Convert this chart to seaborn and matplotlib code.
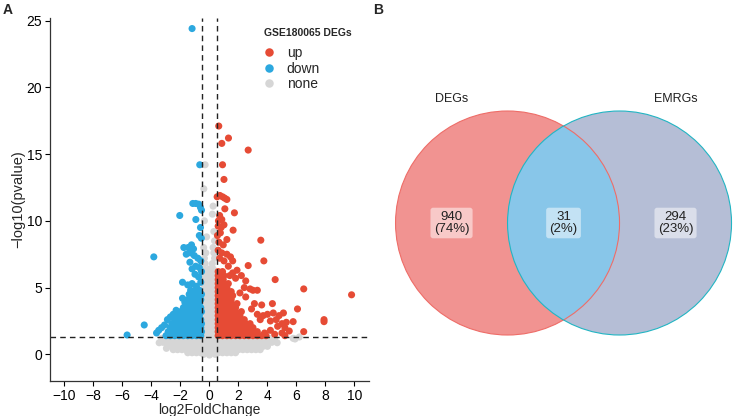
import matplotlib.pyplot as plt
import seaborn as sns
import numpy as np
import pandas as pd
from matplotlib.patches import Circle

# ---- volcano data ----
down_pts = [(-1.20, 24.4), (-0.67, 14.2), (-2.05, 10.4), (-0.94, 10.1),
            (-1.15, 11.3), (-0.95, 11.3), (-0.75, 11.25), (-0.62, 11.0), (-0.55, 10.8),
            (-0.62, 9.5), (-0.70, 8.9), (-0.56, 8.7),
            (-1.77, 8.0), (-1.47, 8.0), (-1.24, 8.2), (-1.10, 7.9),
            (-3.84, 7.3), (-1.60, 7.5), (-1.30, 7.6), (-1.05, 7.4), (-0.80, 7.2), (-0.60, 7.0),
            (-1.35, 6.9), (-0.95, 6.6), (-1.20, 6.4), (-0.70, 6.5), (-0.55, 6.2), (-1.00, 6.0),
            (-0.75, 5.8), (-1.86, 5.4), (-1.50, 5.2), (-1.20, 5.3), (-0.90, 5.1), (-0.60, 5.4),
            (-1.86, 4.2), (-1.70, 3.9), (-2.30, 3.3), (-2.50, 3.0), (-2.70, 2.8), (-2.90, 2.6),
            (-3.10, 2.2), (-3.30, 2.0), (-3.50, 1.8), (-3.65, 1.6), (-4.50, 2.2), (-5.68, 1.45)]
down_rows = [(1.4, [-3.0, -2.7, -2.4, -2.1, -1.8, -1.5, -1.2, -0.9, -0.6]),
             (1.7, [-2.85, -2.55, -2.25, -1.95, -1.65, -1.35, -1.05, -0.75, -0.55]),
             (2.0, [-2.7, -2.4, -2.1, -1.8, -1.5, -1.2, -0.9, -0.6]),
             (2.3, [-2.6, -2.3, -2.0, -1.7, -1.4, -1.1, -0.8, -0.55]),
             (2.6, [-2.4, -2.1, -1.8, -1.5, -1.2, -0.9, -0.6]),
             (2.9, [-2.2, -1.9, -1.6, -1.3, -1.0, -0.7]),
             (3.2, [-2.0, -1.75, -1.45, -1.15, -0.85, -0.55]),
             (3.5, [-1.8, -1.5, -1.2, -0.9, -0.6]),
             (3.8, [-1.6, -1.3, -1.0, -0.7]),
             (4.1, [-1.5, -1.2, -0.9, -0.6]),
             (4.5, [-1.4, -1.1, -0.8, -0.55]),
             (4.8, [-1.3, -1.0, -0.7])]

up_pts = [(0.64, 17.1), (1.31, 16.2), (0.85, 15.8), (2.67, 15.3), (0.90, 14.2), (1.00, 13.1),
          (0.53, 11.8), (0.72, 11.9), (0.90, 11.8), (1.05, 11.7), (1.20, 11.6),
          (1.06, 10.9), (1.72, 10.6), (0.70, 10.4), (0.62, 10.0), (0.85, 10.1),
          (0.60, 9.6), (0.80, 9.5), (1.00, 9.7), (1.63, 9.3), (0.75, 9.1), (0.55, 8.9),
          (1.20, 8.6), (0.65, 8.4), (0.95, 8.2), (3.54, 8.55),
          (0.60, 7.8), (0.85, 7.6), (1.20, 7.5), (1.45, 7.3), (1.60, 7.0), (3.75, 7.0),
          (2.67, 6.65), (1.00, 7.0), (0.70, 7.2),
          (1.30, 6.6), (1.90, 6.3), (1.60, 6.1), (2.20, 5.9), (1.80, 5.7), (2.50, 5.5),
          (4.53, 5.6), (2.40, 5.0), (2.80, 4.9), (3.00, 4.8), (3.30, 4.8), (6.50, 4.9),
          (9.80, 4.46), (2.10, 4.6), (2.50, 4.3), (3.10, 3.8), (3.60, 3.7), (4.34, 3.8),
          (2.90, 3.4), (3.30, 3.0), (3.70, 2.9), (4.00, 3.0), (4.40, 3.1), (4.80, 2.9),
          (5.10, 3.1), (6.07, 3.4), (3.50, 2.6), (4.20, 2.5), (4.60, 2.6), (5.00, 2.3),
          (5.30, 2.4), (5.77, 2.45), (5.20, 2.0), (4.70, 2.1), (7.90, 2.6), (7.90, 2.45),
          (6.50, 1.7), (5.50, 1.75), (5.00, 1.6), (4.50, 1.5), (5.20, 1.4), (4.20, 1.8),
          (3.80, 1.6)]
up_rows = [(1.4, [0.6, 0.9, 1.2, 1.5, 1.8, 2.1, 2.4, 2.7, 3.0, 3.3, 3.6, 3.9]),
           (1.7, [0.6, 0.9, 1.2, 1.5, 1.8, 2.1, 2.4, 2.7, 3.0, 3.3]),
           (2.0, [0.6, 0.9, 1.2, 1.5, 1.8, 2.1, 2.4, 2.7, 3.0]),
           (2.3, [0.6, 0.9, 1.2, 1.5, 1.8, 2.1, 2.5, 2.8]),
           (2.6, [0.6, 0.9, 1.2, 1.5, 1.8, 2.1, 2.4]),
           (2.9, [0.6, 0.9, 1.2, 1.5, 1.8, 2.1]),
           (3.2, [0.6, 0.9, 1.2, 1.5, 1.8, 2.2]),
           (3.5, [0.6, 0.9, 1.2, 1.5, 1.8]),
           (3.8, [0.6, 0.9, 1.2, 1.5, 1.9]),
           (4.1, [0.6, 0.9, 1.2, 1.5]),
           (4.4, [0.6, 0.9, 1.2, 1.6]),
           (4.7, [0.6, 0.9, 1.2, 1.5]),
           (5.0, [0.6, 0.9, 1.2]),
           (5.3, [0.6, 0.9, 1.3]),
           (5.6, [0.6, 0.95]),
           (5.9, [0.6, 1.0, 1.4]),
           (6.2, [0.6, 0.9])]

none_pts = [(-0.39, 12.4), (0.25, 11.1), (-0.30, 14.2), (0.20, 10.5), (-0.35, 10.0),
            (0.30, 9.2), (-0.20, 8.8), (0.35, 8.5), (-3.47, 0.87), (-2.97, 0.45),
            (4.67, 0.87), (5.77, 1.2), (6.20, 1.3), (5.90, 1.15), (0.0, -0.05),
            (-0.4, 0.0), (0.4, 0.0)]
none_rows = [(1.2, [-3.3, -3.0, -2.7, -2.4, -2.1, -1.8, -1.5, -1.2, -0.9, -0.6, -0.3, 0.0, 0.3,
                    0.6, 0.9, 1.2, 1.5, 1.8, 2.1, 2.4, 2.7, 3.0, 3.3, 3.6, 3.9, 4.2, 4.5]),
             (0.9, [-3.2, -2.9, -2.6, -2.3, -2.0, -1.7, -1.4, -1.1, -0.8, -0.5, -0.2, 0.1, 0.4,
                    0.7, 1.0, 1.3, 1.6, 1.9, 2.2, 2.5, 2.8, 3.1, 3.4, 3.7, 4.0, 4.3]),
             (0.6, [-2.9, -2.6, -2.3, -2.0, -1.7, -1.4, -1.1, -0.8, -0.5, -0.2, 0.1, 0.4,
                    0.7, 1.0, 1.3, 1.6, 1.9, 2.2, 2.5, 2.8, 3.1, 3.4, 3.7, 4.0]),
             (0.35, [-2.5, -2.2, -1.9, -1.6, -1.3, -1.0, -0.7, -0.4, -0.1, 0.2, 0.5, 0.8,
                     1.1, 1.4, 1.7, 2.0, 2.3, 2.6, 2.9, 3.2, 3.5]),
             (0.12, [-1.5, -1.2, -0.9, -0.6, -0.3, 0.0, 0.3, 0.6, 0.9, 1.2, 1.5, 1.8]),
             (1.6, [-0.35, 0.0, 0.35]), (1.9, [-0.2, 0.15, 0.4]), (2.2, [-0.4, 0.0, 0.3]),
             (2.5, [-0.3, 0.05, 0.4]), (2.8, [-0.4, -0.05, 0.3]), (3.1, [-0.3, 0.1, 0.4]),
             (3.4, [-0.35, 0.0, 0.35]), (3.7, [-0.25, 0.1, 0.4]), (4.0, [-0.4, 0.0, 0.3]),
             (4.3, [-0.3, 0.05, 0.4]), (4.6, [-0.35, 0.0, 0.35]), (4.9, [-0.3, 0.1, 0.4]),
             (5.2, [-0.4, 0.0, 0.3]), (5.5, [-0.3, 0.1, 0.35]), (5.8, [-0.35, 0.0, 0.3]),
             (6.1, [-0.25, 0.1, 0.3]), (6.4, [-0.4, 0.0, 0.25]), (6.8, [-0.3, 0.2]),
             (7.2, [-0.35, 0.35]), (7.6, [-0.25, 0.3]), (8.0, [-0.4, 0.25])]

# ---- venn data ----
set_names = ["DEGs", "EMRGs"]
region_counts = [940, 31, 294]
region_pcts = ["74%", "2%", "23%"]
venn_fill = ["#F19391", "#88C6E9", "#B5BED6"]
venn_edge = ["#EE6D68", "#22B5C3"]


def expand(pts, rows, group):
    recs = [(x, y, group) for x, y in pts]
    for y, xs in rows:
        recs += [(x, y, group) for x in xs]
    return recs


df = pd.DataFrame(expand(none_pts, none_rows, "none") +
                  expand(down_pts, down_rows, "down") +
                  expand(up_pts, up_rows, "up"),
                  columns=["log2FoldChange", "logp", "change"])

sns.set_style("white")
plt.rcParams['font.family'] = ['Liberation Sans', 'DejaVu Sans']

fig = plt.figure(figsize=(7.35, 4.16), dpi=100)
ax = fig.add_axes([0.068, 0.084, 0.434, 0.873])

pal = {"up": "#E64B35", "down": "#2CA8DF", "none": "#D6D6D6"}
sns.scatterplot(data=df, x="log2FoldChange", y="logp", hue="change",
                hue_order=["up", "down", "none"], palette=pal,
                s=26, linewidth=0, ax=ax, legend=True)

ax.axhline(-np.log10(0.05), color="#222222", ls=(0, (4, 3)), lw=1)
ax.axvline(-0.5, color="#222222", ls=(0, (4, 3)), lw=1)
ax.axvline(0.5, color="#222222", ls=(0, (4, 3)), lw=1)

ax.set_xlim(-11, 11)
ax.set_ylim(-2.0, 25.2)
ax.set_xticks(range(-10, 11, 2))
ax.set_yticks([0, 5, 10, 15, 20, 25])
ax.set_xticklabels([str(v).replace("-", "\u2212") for v in range(-10, 11, 2)])
ax.set_xlabel("log2FoldChange", fontsize=10, labelpad=0)
ax.set_ylabel("\u2212log10(pvalue)", fontsize=10.5, labelpad=1)
ax.tick_params(axis="both", labelsize=10, colors="black", length=3.5, width=0.8,
               direction="out", left=True, bottom=True, pad=2)
for side in ["top", "right"]:
    ax.spines[side].set_visible(False)
for side in ["left", "bottom"]:
    ax.spines[side].set_color("#333333")
    ax.spines[side].set_linewidth(0.9)

leg = ax.legend(loc="upper left", bbox_to_anchor=(0.625, 0.938),
                frameon=False, fontsize=10, markerscale=1.2,
                handletextpad=0.3, labelspacing=0.12, borderaxespad=0)
fig.text(264 / 735, 1 - 33 / 416, "GSE180065 DEGs", fontsize=7.5, fontweight="bold",
         va="center", ha="left")

fig.text(0.003, 0.975, "A", fontsize=10, fontweight="bold", va="center")
fig.text(0.508, 0.975, "B", fontsize=10, fontweight="bold", va="center")

# ---- venn ----
vx = fig.add_axes([370 / 735, 0, 365 / 735, 1])
vx.set_xlim(-1.728, 1.531)
vx.set_ylim(-1.723, 1.991)
vx.set_aspect("equal")
vx.axis("off")

centers = [(-0.5, 0.0), (0.5, 0.0)]
r = 1.0
vx.add_patch(Circle(centers[0], r, facecolor=venn_fill[0], edgecolor="none"))
vx.add_patch(Circle(centers[1], r, facecolor=venn_fill[2], edgecolor="none"))
inter = Circle(centers[0], r, facecolor=venn_fill[1], edgecolor="none")
vx.add_patch(inter)
inter.set_clip_path(Circle(centers[1], r, transform=vx.transData))
vx.add_patch(Circle(centers[0], r, facecolor="none", edgecolor=venn_edge[0], lw=0.8))
vx.add_patch(Circle(centers[1], r, facecolor="none", edgecolor=venn_edge[1], lw=0.8))

vx.text(-1.0, 1.11, set_names[0], ha="center", va="center", fontsize=9, color="#222222")
vx.text(1.0, 1.11, set_names[1], ha="center", va="center", fontsize=9, color="#222222")

for xpos, n, p in zip([-1.0, 0.0, 1.0], region_counts, region_pcts):
    vx.text(xpos, 0.0, f"{n}\n({p})", ha="center", va="center", fontsize=9.5,
            color="#222222", linespacing=1.0,
            bbox=dict(boxstyle="round,pad=0.25,rounding_size=0.2", fc="white",
                      ec="none", alpha=0.5))

fig.savefig("out.png", dpi=100)
